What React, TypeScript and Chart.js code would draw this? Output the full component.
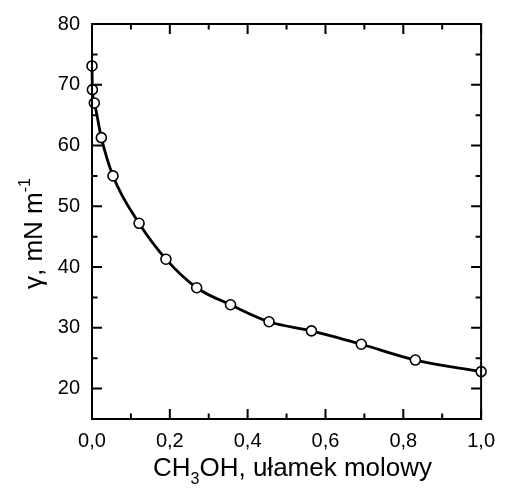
import React, { useEffect, useRef } from "react";
import { Chart, registerables } from "chart.js";

Chart.register(...registerables);

// Data
const moleFraction = [0, 0.001, 0.006, 0.024, 0.054, 0.121, 0.19, 0.269, 0.356, 0.455, 0.564, 0.692, 0.831, 1.0];
const surfaceTension = [73.1, 69.2, 67.0, 61.3, 55.0, 47.2, 41.3, 36.6, 33.8, 31.0, 29.5, 27.3, 24.7, 22.8];

const xMajorTicks = [0, 0.2, 0.4, 0.6, 0.8, 1.0];
const xTickLabels = ["0,0", "0,2", "0,4", "0,6", "0,8", "1,0"];
const xMinorTicks = [0.1, 0.3, 0.5, 0.7, 0.9];
const yMajorTicks = [20, 30, 40, 50, 60, 70, 80];
const yMinorTicks = [25, 35, 45, 55, 65, 75];

const FONT = "'Liberation Sans', Arial, Helvetica, sans-serif";

type Seg = { text: string; size: number; dy: number };

function drawRich(ctx: CanvasRenderingContext2D, segs: Seg[], cx: number, baseY: number) {
  let total = 0;
  for (const s of segs) {
    ctx.font = `${s.size}px ${FONT}`;
    total += ctx.measureText(s.text).width;
  }
  let x = cx - total / 2;
  ctx.textAlign = "left";
  ctx.textBaseline = "alphabetic";
  for (const s of segs) {
    ctx.font = `${s.size}px ${FONT}`;
    ctx.fillText(s.text, x, baseY + s.dy);
    x += ctx.measureText(s.text).width;
  }
}

const framePlugin = {
  id: "frameAndTitles",
  afterDatasetsDraw(chart: any) {
    const { ctx, chartArea: ca, scales } = chart;
    const xs = scales.x;
    const ys = scales.y;
    ctx.save();
    ctx.strokeStyle = "#000";
    ctx.fillStyle = "#000";
    ctx.lineWidth = 2;
    ctx.lineCap = "butt";
    ctx.strokeRect(ca.left, ca.top, ca.right - ca.left, ca.bottom - ca.top);
    const MAJ = 10;
    const MIN = 5.5;
    ctx.beginPath();
    const xt = (v: number, len: number) => {
      const px = xs.getPixelForValue(v);
      ctx.moveTo(px, ca.bottom);
      ctx.lineTo(px, ca.bottom - len);
      ctx.moveTo(px, ca.top);
      ctx.lineTo(px, ca.top + len);
    };
    const yt = (v: number, len: number) => {
      const py = ys.getPixelForValue(v);
      ctx.moveTo(ca.left, py);
      ctx.lineTo(ca.left + len, py);
      ctx.moveTo(ca.right, py);
      ctx.lineTo(ca.right - len, py);
    };
    xMajorTicks.forEach((v) => xt(v, MAJ));
    xMinorTicks.forEach((v) => xt(v, MIN));
    yMajorTicks.forEach((v) => yt(v, MAJ));
    yMinorTicks.forEach((v) => yt(v, MIN));
    ctx.stroke();

    drawRich(
      ctx,
      [
        { text: "CH", size: 26, dy: 0 },
        { text: "3", size: 16, dy: 8 },
        { text: "OH, ułamek molowy", size: 26, dy: 0 },
      ],
      (ca.left + ca.right) / 2 + 6,
      476
    );

    ctx.save();
    ctx.translate(42, (ca.top + ca.bottom) / 2 + 12);
    ctx.rotate(-Math.PI / 2);
    drawRich(
      ctx,
      [
        { text: "γ, mN m", size: 26, dy: 0 },
        { text: "-1", size: 16, dy: -12 },
      ],
      0,
      0
    );
    ctx.restore();
    ctx.restore();
  },
};

export default function App() {
  const ref = useRef<HTMLCanvasElement | null>(null);
  useEffect(() => {
    if (!ref.current) return;
    const chart = new Chart(ref.current, {
      type: "line",
      data: {
        datasets: [
          {
            data: moleFraction.map((x, i) => ({ x, y: surfaceTension[i] })),
            borderColor: "#000",
            borderWidth: 2.8,
            cubicInterpolationMode: "monotone",
            pointRadius: 5,
            pointBorderWidth: 1.6,
            pointBackgroundColor: "#fff",
            pointBorderColor: "#000",
            clip: false,
          } as any,
        ],
      },
      options: {
        animation: false,
        responsive: false,
        devicePixelRatio: 1,
        layout: { padding: { top: 22, right: 17, left: 0, bottom: 0 } },
        plugins: { legend: { display: false }, tooltip: { enabled: false } },
        events: [],
        scales: {
          x: {
            type: "linear",
            min: 0,
            max: 1,
            grid: { display: false, drawTicks: false },
            border: { display: false },
            afterFit: (s: any) => {
              s.height = 69;
            },
            afterBuildTicks: (s: any) => {
              s.ticks = xMajorTicks.map((v) => ({ value: v }));
            },
            ticks: {
              padding: 10,
              color: "#000",
              font: { family: FONT, size: 20 },
              maxRotation: 0,
              callback: (v: any) => {
                const i = xMajorTicks.findIndex((t) => Math.abs(t - Number(v)) < 1e-9);
                return i >= 0 ? xTickLabels[i] : "";
              },
            },
          },
          y: {
            type: "linear",
            min: 15,
            max: 80,
            grid: { display: false, drawTicks: false },
            border: { display: false },
            afterFit: (s: any) => {
              s.width = 92;
            },
            afterBuildTicks: (s: any) => {
              s.ticks = yMajorTicks.map((v) => ({ value: v }));
            },
            ticks: {
              padding: 12,
              color: "#000",
              font: { family: FONT, size: 20 },
              callback: (v: any) => String(v),
            },
          },
        },
      },
      plugins: [framePlugin],
    });
    return () => chart.destroy();
  }, []);
  return (
    <div style={{ position: "absolute", left: 0, top: 0, width: 505, height: 488, background: "#fff" }}>
      <canvas ref={ref} width={505} height={488} />
    </div>
  );
}
